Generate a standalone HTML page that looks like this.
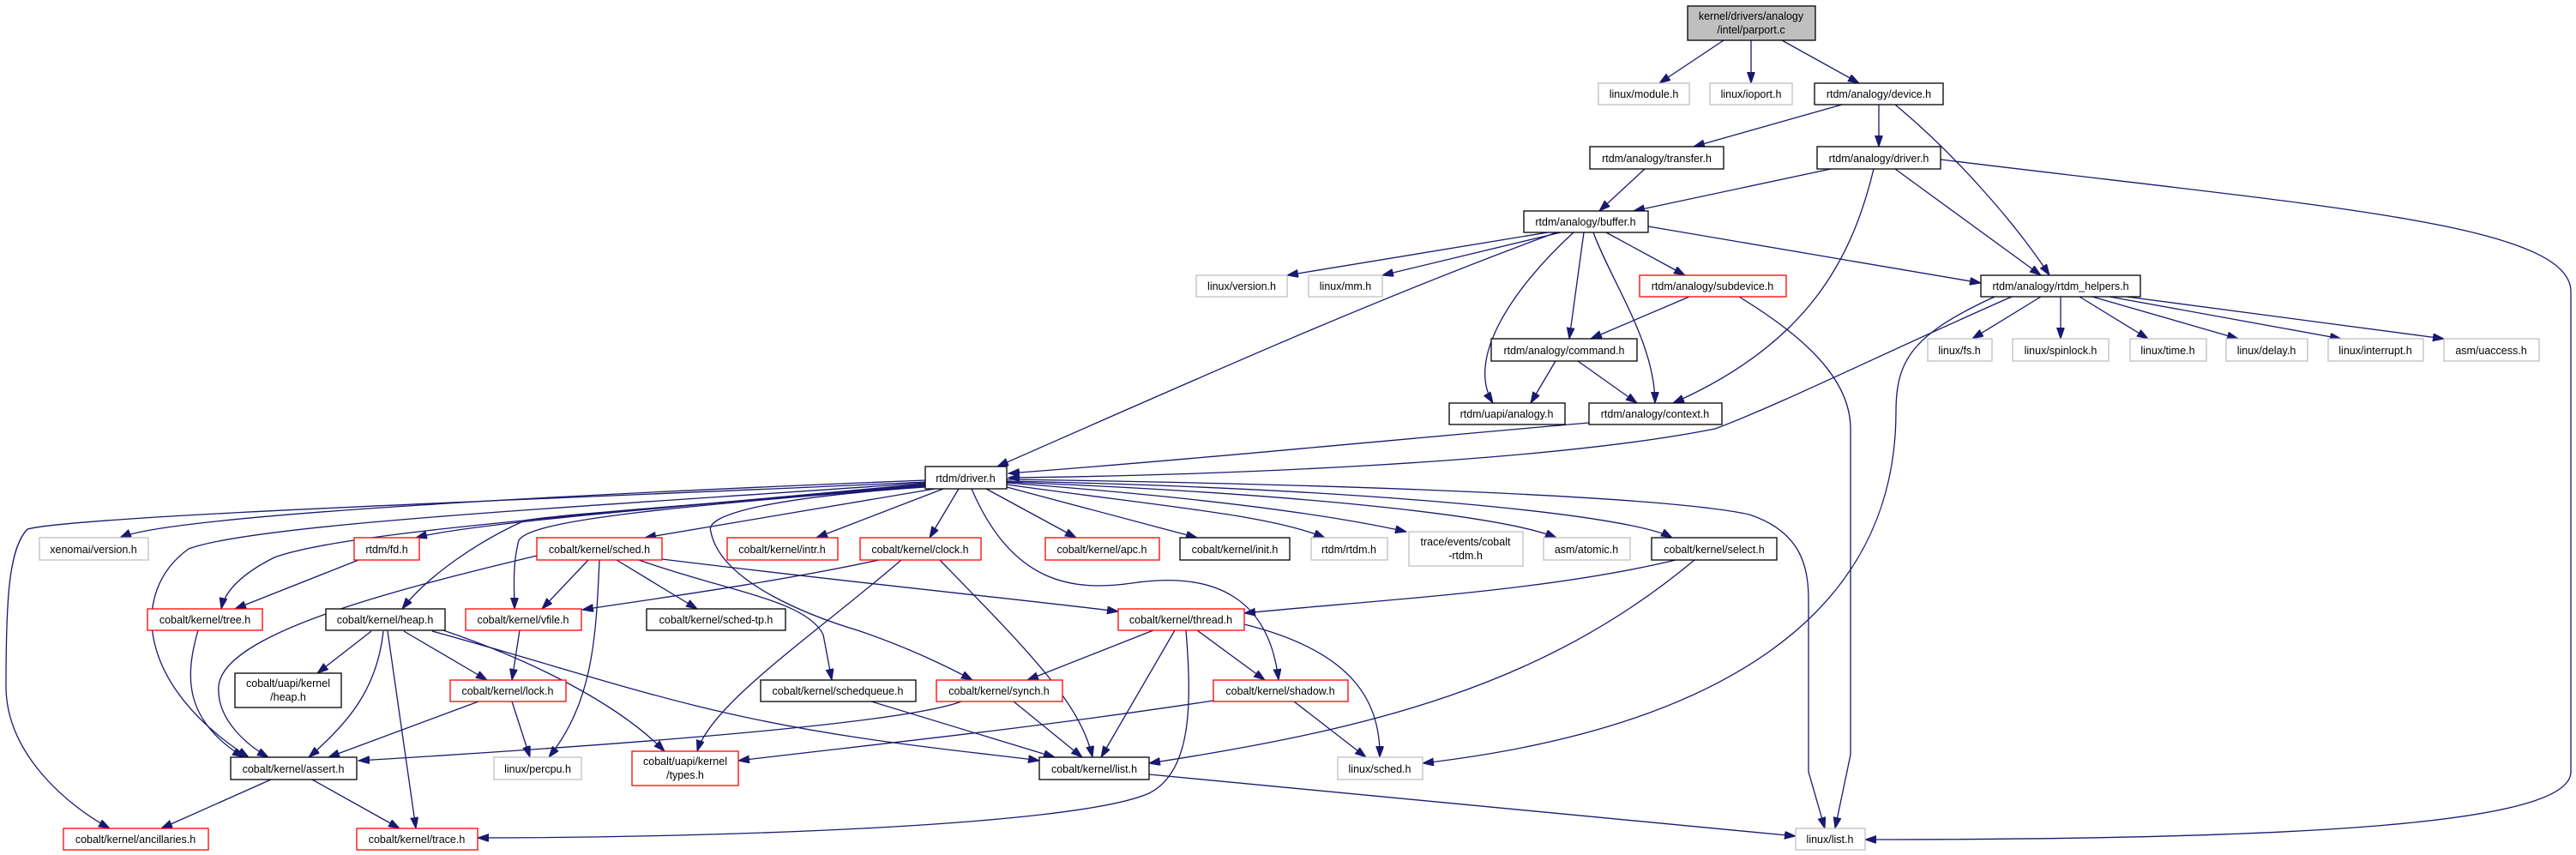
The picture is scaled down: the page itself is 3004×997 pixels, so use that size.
<!DOCTYPE html>
<html><head><meta charset="utf-8"><style>
html,body{margin:0;padding:0;background:#fff}
svg{display:block}
text{font-family:"Liberation Sans",sans-serif;font-size:12.5px;fill:#000;text-anchor:middle}
.b rect,rect.b{fill:#fff;stroke:#000;stroke-width:1.3}
rect.r{fill:#fff;stroke:#ff0000;stroke-width:1.3}
rect.g{fill:#fff;stroke:#bfbfbf;stroke-width:1.3}
path{fill:none;stroke:#191970;stroke-width:1.3}
</style></head><body>
<svg width="3004" height="997" viewBox="0 0 3004 997" xmlns="http://www.w3.org/2000/svg">
<defs><marker id="a" markerUnits="userSpaceOnUse" markerWidth="14" markerHeight="10" refX="13" refY="4.5" orient="auto"><path d="M0,0 L13,4.5 L0,9 z" style="fill:#191970;stroke:#191970;stroke-width:1"/></marker></defs>
<g marker-end="url(#a)">
<path d="M2010,47 L1935,97"/>
<path d="M2042,47 L2042,97"/>
<path d="M2078,47 L2168,97"/>
<path d="M2148,122 L1975,171"/>
<path d="M2191,122 L2191,171"/>
<path d="M2210,122 C2280,180 2350,260 2390,321"/>
<path d="M1918,197 L1865,246"/>
<path d="M2135,197 L1905,246"/>
<path d="M2185,197 C2160,300 2110,400 1951,470"/>
<path d="M2210,197 L2380,321"/>
<path d="M2263,186 C2700,240 2998,260 2998,340 L2998,900 C2998,960 2700,979 2175,979"/>
<path d="M1805,271 L1501,321"/>
<path d="M1820,271 L1612,321"/>
<path d="M1815,271 C1600,350 1400,440 1163,544"/>
<path d="M1835,271 C1760,340 1710,420 1741,470"/>
<path d="M1847,271 L1830,395"/>
<path d="M1858,271 C1880,330 1930,400 1930,470"/>
<path d="M1873,271 L1965,321"/>
<path d="M1922,264 L2310,330"/>
<path d="M1970,346 L1855,395"/>
<path d="M2028,346 C2100,390 2158,440 2158,500 L2158,880 L2140,966"/>
<path d="M1814,421 L1785,470"/>
<path d="M1840,421 L1909,470"/>
<path d="M1853,493 C1600,515 1400,535 1176,552"/>
<path d="M2346,346 C2200,410 2080,470 2000,500 C1800,540 1400,555 1176,557"/>
<path d="M2380,346 L2300,395"/>
<path d="M2403,346 L2403,395"/>
<path d="M2425,346 L2505,395"/>
<path d="M2440,346 L2610,395"/>
<path d="M2460,346 L2730,395"/>
<path d="M2480,346 L2850,395"/>
<path d="M2326,346 C2230,390 2211,420 2211,480 C2211,720 2000,850 1659,890"/>
<path d="M1079,560 C700,575 200,600 140,627"/>
<path d="M1079,562 C700,580 100,600 32,617 C10,640 7,700 7,800 C7,880 80,940 128,966"/>
<path d="M1079,563 C700,590 300,610 220,640 C150,690 160,800 290,883"/>
<path d="M1079,564 C700,600 400,620 320,650 C280,670 262,690 258,710"/>
<path d="M1079,565 C800,590 550,610 485,627"/>
<path d="M1079,566 C800,590 650,600 612,607 C560,630 500,670 469,710"/>
<path d="M1079,567 C800,590 620,605 605,630 C597,660 600,690 600,710"/>
<path d="M1090,570 L752,627"/>
<path d="M1100,570 L952,627"/>
<path d="M1118,570 L1084,627"/>
<path d="M1079,568 C900,580 820,600 829,620 C840,680 950,720 1000,735 C1060,755 1110,780 1134,793"/>
<path d="M1133,570 C1180,680 1250,690 1320,680 C1420,665 1480,700 1491,793"/>
<path d="M1150,570 L1255,627"/>
<path d="M1174,568 L1396,627"/>
<path d="M1174,565 C1350,590 1480,600 1545,627"/>
<path d="M1174,563 C1400,580 1550,600 1640,620"/>
<path d="M1174,562 C1500,575 1750,600 1815,627"/>
<path d="M1174,561 C1600,570 1900,600 1950,627"/>
<path d="M1174,559 C1600,565 1950,580 2040,600 C2100,620 2109,660 2109,700 L2109,900 L2128,966"/>
<path d="M1025,653 C900,680 750,700 679,711"/>
<path d="M1051,653 C950,740 830,820 813,876"/>
<path d="M1096,653 C1200,760 1260,820 1274,883"/>
<path d="M1954,653 C1800,690 1600,700 1451,715"/>
<path d="M1976,653 C1800,800 1600,850 1340,890"/>
<path d="M626,648 C450,690 260,740 255,800 C252,840 290,870 313,883"/>
<path d="M686,653 L632,710"/>
<path d="M719,653 L813,710"/>
<path d="M699,653 C695,750 690,820 640,883"/>
<path d="M772,652 C1000,680 1200,700 1304,713"/>
<path d="M745,653 C850,690 940,700 960,740 L970,793"/>
<path d="M418,653 L274,710"/>
<path d="M231,735 C215,790 215,840 284,883"/>
<path d="M433,736 L370,785"/>
<path d="M447,736 C440,800 410,840 360,883"/>
<path d="M452,736 L485,966"/>
<path d="M471,736 L568,793"/>
<path d="M517,735 C620,770 720,820 775,876"/>
<path d="M504,736 C700,790 800,830 1000,860 C1100,875 1180,882 1212,887"/>
<path d="M606,735 L597,793"/>
<path d="M558,818 L383,883"/>
<path d="M597,818 L618,883"/>
<path d="M1016,818 L1230,883"/>
<path d="M1121,818 C1050,845 700,870 418,887"/>
<path d="M1182,818 L1262,883"/>
<path d="M1345,735 L1198,793"/>
<path d="M1370,735 L1284,883"/>
<path d="M1396,735 L1475,793"/>
<path d="M1451,728 C1580,760 1610,820 1609,883"/>
<path d="M1383,735 C1390,820 1390,900 1340,925 C1250,965 800,977 557,977"/>
<path d="M1415,817 C1200,850 1000,870 861,887"/>
<path d="M1509,818 L1593,883"/>
<path d="M316,909 L188,966"/>
<path d="M364,909 L466,966"/>
<path d="M1340,903 L2094,975"/>
</g>
<!-- nodes -->
<rect x="1968" y="7" width="149" height="40" style="fill:#bfbfbf;stroke:#000;stroke-width:1.3"/>
<text x="2042" y="23">kernel/drivers/analogy</text><text x="2042" y="39">/intel/parport.c</text>

<rect class="g" x="1864" y="97" width="106" height="25"/><text x="1917" y="114">linux/module.h</text>
<rect class="g" x="1994" y="97" width="96" height="25"/><text x="2042" y="114">linux/ioport.h</text>
<rect class="b" x="2116" y="97" width="150" height="25"/><text x="2191" y="114">rtdm/analogy/device.h</text>

<rect class="b" x="1854" y="171" width="156" height="26"/><text x="1932" y="189">rtdm/analogy/transfer.h</text>
<rect class="b" x="2119" y="171" width="144" height="26"/><text x="2191" y="189">rtdm/analogy/driver.h</text>

<rect class="b" x="1777" y="246" width="145" height="25"/><text x="1849" y="263">rtdm/analogy/buffer.h</text>

<rect class="g" x="1395" y="321" width="106" height="25"/><text x="1448" y="338">linux/version.h</text>
<rect class="g" x="1526" y="321" width="86" height="25"/><text x="1569" y="338">linux/mm.h</text>
<rect class="r" x="1912" y="321" width="171" height="25"/><text x="1997" y="338">rtdm/analogy/subdevice.h</text>
<rect class="b" x="2310" y="321" width="186" height="25"/><text x="2403" y="338">rtdm/analogy/rtdm_helpers.h</text>

<rect class="b" x="1739" y="395" width="170" height="26"/><text x="1824" y="413">rtdm/analogy/command.h</text>
<rect class="g" x="2248" y="395" width="75" height="26"/><text x="2285" y="413">linux/fs.h</text>
<rect class="g" x="2347" y="395" width="112" height="26"/><text x="2403" y="413">linux/spinlock.h</text>
<rect class="g" x="2484" y="395" width="89" height="26"/><text x="2528" y="413">linux/time.h</text>
<rect class="g" x="2596" y="395" width="95" height="26"/><text x="2643" y="413">linux/delay.h</text>
<rect class="g" x="2715" y="395" width="111" height="26"/><text x="2770" y="413">linux/interrupt.h</text>
<rect class="g" x="2850" y="395" width="111" height="26"/><text x="2905" y="413">asm/uaccess.h</text>

<rect class="b" x="1690" y="470" width="135" height="25"/><text x="1757" y="487">rtdm/uapi/analogy.h</text>
<rect class="b" x="1853" y="470" width="155" height="25"/><text x="1930" y="487">rtdm/analogy/context.h</text>

<rect class="b" x="1079" y="544" width="95" height="26"/><text x="1126" y="562">rtdm/driver.h</text>

<rect class="g" x="46" y="627" width="127" height="26"/><text x="109" y="645">xenomai/version.h</text>
<rect class="r" x="413" y="627" width="76" height="26"/><text x="451" y="645">rtdm/fd.h</text>
<rect class="r" x="626" y="627" width="146" height="26"/><text x="699" y="645">cobalt/kernel/sched.h</text>
<rect class="r" x="848" y="627" width="129" height="26"/><text x="912" y="645">cobalt/kernel/intr.h</text>
<rect class="r" x="1003" y="627" width="141" height="26"/><text x="1073" y="645">cobalt/kernel/clock.h</text>
<rect class="r" x="1219" y="627" width="133" height="26"/><text x="1285" y="645">cobalt/kernel/apc.h</text>
<rect class="b" x="1376" y="627" width="128" height="26"/><text x="1440" y="645">cobalt/kernel/init.h</text>
<rect class="g" x="1529" y="627" width="89" height="26"/><text x="1573" y="645">rtdm/rtdm.h</text>
<rect class="g" x="1643" y="620" width="133" height="40"/><text x="1709" y="636">trace/events/cobalt</text><text x="1709" y="652">-rtdm.h</text>
<rect class="g" x="1800" y="627" width="101" height="26"/><text x="1850" y="645">asm/atomic.h</text>
<rect class="b" x="1926" y="627" width="146" height="26"/><text x="1999" y="645">cobalt/kernel/select.h</text>

<rect class="r" x="172" y="710" width="134" height="25"/><text x="239" y="727">cobalt/kernel/tree.h</text>
<rect class="b" x="380" y="710" width="139" height="25"/><text x="449" y="727">cobalt/kernel/heap.h</text>
<rect class="r" x="543" y="710" width="135" height="25"/><text x="610" y="727">cobalt/kernel/vfile.h</text>
<rect class="b" x="754" y="710" width="162" height="25"/><text x="835" y="727">cobalt/kernel/sched-tp.h</text>
<rect class="r" x="1304" y="710" width="147" height="25"/><text x="1377" y="727">cobalt/kernel/thread.h</text>

<rect class="b" x="274" y="785" width="124" height="40"/><text x="336" y="801">cobalt/uapi/kernel</text><text x="336" y="817">/heap.h</text>
<rect class="r" x="525" y="793" width="135" height="25"/><text x="592" y="810">cobalt/kernel/lock.h</text>
<rect class="b" x="887" y="793" width="181" height="25"/><text x="977" y="810">cobalt/kernel/schedqueue.h</text>
<rect class="r" x="1092" y="793" width="147" height="25"/><text x="1165" y="810">cobalt/kernel/synch.h</text>
<rect class="r" x="1415" y="793" width="157" height="25"/><text x="1493" y="810">cobalt/kernel/shadow.h</text>

<rect class="b" x="269" y="883" width="147" height="26"/><text x="342" y="901">cobalt/kernel/assert.h</text>
<rect class="g" x="576" y="883" width="102" height="26"/><text x="627" y="901">linux/percpu.h</text>
<rect class="r" x="737" y="876" width="124" height="40"/><text x="799" y="892">cobalt/uapi/kernel</text><text x="799" y="908">/types.h</text>
<rect class="b" x="1212" y="883" width="128" height="26"/><text x="1276" y="901">cobalt/kernel/list.h</text>
<rect class="g" x="1560" y="883" width="99" height="26"/><text x="1609" y="901">linux/sched.h</text>

<rect class="r" x="74" y="966" width="169" height="25"/><text x="158" y="983">cobalt/kernel/ancillaries.h</text>
<rect class="r" x="416" y="966" width="141" height="25"/><text x="486" y="983">cobalt/kernel/trace.h</text>
<rect class="g" x="2094" y="966" width="81" height="25"/><text x="2134" y="983">linux/list.h</text>
</svg>
</body></html>
